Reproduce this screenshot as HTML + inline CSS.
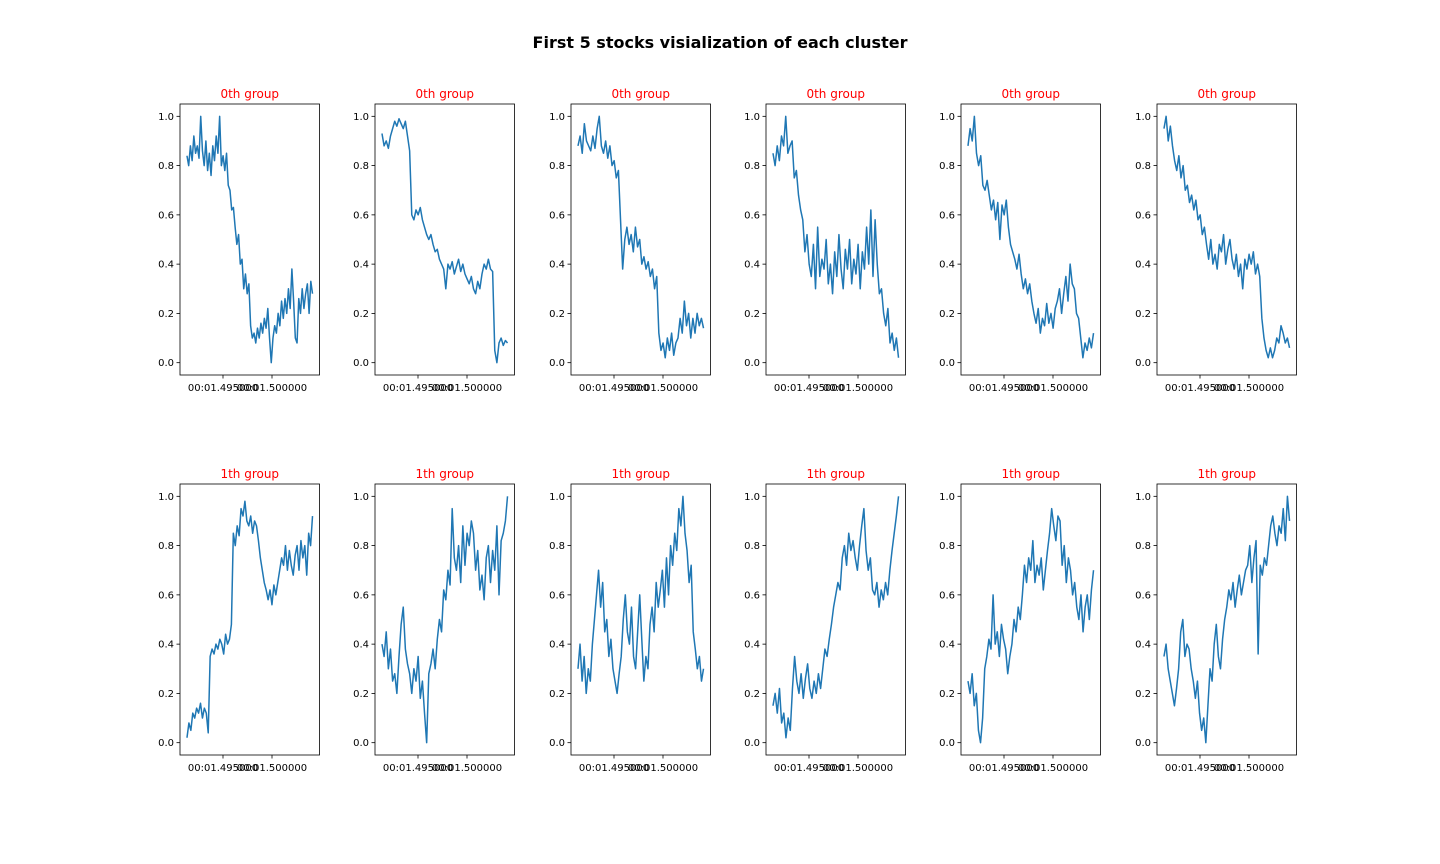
<!DOCTYPE html>
<html><head><meta charset="utf-8"><style>
html,body{margin:0;padding:0;background:#fff;}
svg{display:block;font-family:"DejaVu Sans","Liberation Sans",sans-serif;}
</style></head><body>
<svg id="fig" width="1440" height="864" viewBox="0 0 1440 864">
<text x="720" y="48" text-anchor="middle" font-size="16" font-weight="bold" fill="#000">First 5 stocks visialization of each cluster</text>
</svg>
<script>
const groupTitles = ["0th group","1th group"];
const yTicks = [0.0,0.2,0.4,0.6,0.8,1.0];
const xTickLabels = ["00:01.495000","00:01.500000"];
const r0s0=[0.84,0.80,0.88,0.82,0.92,0.85,0.88,0.83,1.00,0.86,0.80,0.90,0.78,0.85,0.76,0.88,0.82,0.92,0.85,1.00,0.80,0.84,0.78,0.85,0.72,0.70,0.62,0.63,0.55,0.48,0.52,0.40,0.42,0.30,0.36,0.28,0.32,0.15,0.10,0.12,0.08,0.14,0.10,0.16,0.12,0.18,0.14,0.22,0.10,0.00,0.10,0.15,0.12,0.20,0.15,0.25,0.18,0.26,0.20,0.30,0.22,0.38,0.25,0.10,0.08,0.26,0.20,0.30,0.22,0.28,0.32,0.20,0.33,0.28];
const r0s1=[0.93,0.88,0.90,0.87,0.92,0.95,0.98,0.96,0.99,0.97,0.95,0.98,0.92,0.86,0.60,0.58,0.62,0.60,0.63,0.58,0.55,0.52,0.50,0.52,0.48,0.45,0.46,0.42,0.40,0.38,0.30,0.40,0.38,0.41,0.36,0.39,0.42,0.37,0.40,0.36,0.34,0.32,0.35,0.30,0.28,0.33,0.30,0.36,0.40,0.38,0.42,0.38,0.37,0.05,0.00,0.08,0.10,0.07,0.09,0.08];
const r0s2=[0.88,0.92,0.85,0.97,0.90,0.88,0.86,0.92,0.87,0.95,1.00,0.88,0.85,0.90,0.83,0.88,0.80,0.82,0.75,0.78,0.58,0.38,0.50,0.55,0.48,0.52,0.45,0.55,0.47,0.50,0.40,0.43,0.38,0.41,0.35,0.38,0.30,0.35,0.12,0.05,0.08,0.02,0.10,0.05,0.12,0.03,0.08,0.10,0.18,0.12,0.25,0.15,0.20,0.10,0.18,0.12,0.20,0.15,0.18,0.14];
const r0s3=[0.85,0.80,0.88,0.82,0.92,0.88,1.00,0.85,0.88,0.90,0.75,0.78,0.68,0.62,0.58,0.45,0.52,0.40,0.35,0.48,0.30,0.55,0.35,0.42,0.38,0.50,0.32,0.40,0.28,0.45,0.35,0.52,0.38,0.30,0.46,0.38,0.50,0.32,0.42,0.36,0.48,0.30,0.45,0.38,0.55,0.40,0.62,0.35,0.58,0.40,0.28,0.30,0.20,0.15,0.22,0.08,0.12,0.05,0.10,0.02];
const r0s4=[0.88,0.95,0.90,1.00,0.85,0.80,0.84,0.72,0.70,0.74,0.68,0.62,0.66,0.58,0.65,0.50,0.64,0.60,0.66,0.55,0.48,0.45,0.42,0.38,0.44,0.36,0.30,0.34,0.28,0.32,0.25,0.20,0.16,0.22,0.12,0.18,0.15,0.24,0.16,0.20,0.14,0.22,0.25,0.30,0.20,0.28,0.35,0.25,0.40,0.32,0.30,0.20,0.18,0.10,0.02,0.08,0.05,0.10,0.06,0.12];
const r0s5=[0.95,1.00,0.90,0.96,0.88,0.82,0.78,0.84,0.75,0.80,0.70,0.72,0.65,0.68,0.62,0.66,0.58,0.60,0.52,0.55,0.48,0.42,0.50,0.40,0.44,0.38,0.48,0.45,0.52,0.40,0.46,0.50,0.42,0.38,0.44,0.35,0.40,0.30,0.42,0.38,0.44,0.40,0.45,0.36,0.40,0.35,0.18,0.10,0.05,0.02,0.06,0.02,0.05,0.10,0.08,0.15,0.12,0.08,0.10,0.06];
const r1s0=[0.02,0.08,0.05,0.12,0.10,0.14,0.12,0.16,0.10,0.14,0.12,0.04,0.35,0.38,0.36,0.40,0.38,0.42,0.40,0.36,0.44,0.40,0.42,0.48,0.85,0.80,0.88,0.84,0.95,0.92,0.98,0.90,0.88,0.92,0.85,0.90,0.88,0.82,0.75,0.70,0.65,0.62,0.58,0.62,0.56,0.64,0.60,0.65,0.70,0.75,0.72,0.80,0.70,0.78,0.72,0.68,0.76,0.80,0.70,0.82,0.75,0.80,0.68,0.85,0.80,0.92];
const r1s1=[0.40,0.35,0.45,0.30,0.38,0.25,0.28,0.20,0.35,0.48,0.55,0.38,0.32,0.28,0.20,0.30,0.25,0.35,0.18,0.25,0.12,0.00,0.28,0.32,0.38,0.30,0.42,0.50,0.45,0.62,0.58,0.70,0.64,0.95,0.75,0.70,0.80,0.65,0.88,0.72,0.85,0.80,0.90,0.85,0.70,0.78,0.62,0.68,0.58,0.75,0.80,0.65,0.78,0.70,0.88,0.60,0.82,0.85,0.90,1.00];
const r1s2=[0.30,0.40,0.25,0.35,0.20,0.30,0.25,0.40,0.50,0.60,0.70,0.55,0.65,0.45,0.50,0.35,0.42,0.30,0.25,0.20,0.28,0.35,0.50,0.60,0.45,0.40,0.55,0.35,0.30,0.45,0.60,0.42,0.25,0.35,0.30,0.48,0.55,0.45,0.65,0.55,0.62,0.70,0.55,0.75,0.60,0.80,0.72,0.85,0.78,0.95,0.88,1.00,0.85,0.78,0.65,0.72,0.45,0.38,0.30,0.35,0.25,0.30];
const r1s3=[0.15,0.20,0.12,0.22,0.08,0.12,0.02,0.10,0.05,0.22,0.35,0.25,0.20,0.28,0.18,0.26,0.32,0.22,0.18,0.25,0.20,0.28,0.22,0.30,0.38,0.35,0.42,0.48,0.55,0.60,0.65,0.62,0.75,0.80,0.72,0.85,0.78,0.82,0.75,0.70,0.80,0.88,0.95,0.78,0.70,0.75,0.62,0.60,0.65,0.55,0.62,0.58,0.65,0.60,0.70,0.78,0.85,0.92,1.00];
const r1s4=[0.25,0.20,0.28,0.15,0.20,0.05,0.00,0.10,0.30,0.35,0.42,0.38,0.60,0.40,0.45,0.35,0.48,0.42,0.38,0.28,0.35,0.40,0.50,0.45,0.55,0.50,0.60,0.72,0.65,0.75,0.70,0.82,0.65,0.72,0.68,0.75,0.62,0.70,0.78,0.85,0.95,0.88,0.82,0.92,0.90,0.72,0.80,0.65,0.75,0.70,0.60,0.65,0.55,0.50,0.60,0.45,0.55,0.60,0.50,0.62,0.70];
const r1s5=[0.35,0.40,0.30,0.25,0.20,0.15,0.22,0.30,0.45,0.50,0.35,0.40,0.38,0.30,0.25,0.18,0.25,0.12,0.05,0.10,0.00,0.15,0.30,0.25,0.40,0.48,0.35,0.30,0.42,0.50,0.55,0.62,0.58,0.65,0.55,0.62,0.68,0.60,0.65,0.70,0.72,0.80,0.65,0.75,0.82,0.36,0.72,0.68,0.75,0.72,0.80,0.88,0.92,0.85,0.80,0.88,0.85,0.95,0.82,1.00,0.90];
const seriesRows=[[r0s0,r0s1,r0s2,r0s3,r0s4,r0s5],[r1s0,r1s1,r1s2,r1s3,r1s4,r1s5]];

const NS="http://www.w3.org/2000/svg";
const svg=document.getElementById('fig');
function mk(tag,attrs,parent){const e=document.createElementNS(NS,tag);for(const k in attrs)e.setAttribute(k,attrs[k]);(parent||svg).appendChild(e);return e;}
const lefts=[180,375,571,766,961,1157], tops=[104,484], W=139.5, H=271;
seriesRows.forEach((row,ri)=>{
  row.forEach((vals,ci)=>{
    const x0=lefts[ci], y0=tops[ri];
    const g=mk('g',{});
    
    
    const yS=v=>y0+H-(v+0.05)/1.1*H;
    const xS=t=>x0+W*(0.05+0.9*t);
    const n=vals.length;
    const d=vals.map((v,i)=>(i?'L':'M')+xS(i/(n-1)).toFixed(2)+','+yS(v).toFixed(2)).join(' ');
    const p=mk('path',{d:d,fill:'none',stroke:'#1f77b4','stroke-width':1.5,'stroke-linejoin':'round'},g);
    
    
    const r=mk('rect',{x:x0,y:y0,width:W,height:H,fill:'none',stroke:'#000','stroke-width':0.8},g);
    
    
    const t=mk('text',{x:x0+W/2,y:y0-6,'text-anchor':'middle','font-size':12,fill:'#ff0000'},g);
    t.textContent=groupTitles[ri];
    
    
    yTicks.forEach(v=>{
      const yy=yS(v);
      mk('line',{x1:x0-3.5,x2:x0,y1:yy,y2:yy,stroke:'#000','stroke-width':0.8},g);
      const lt=mk('text',{x:x0-6,y:yy+3.5,'text-anchor':'end','font-size':10,fill:'#000'},g);
      lt.textContent=v.toFixed(1);
      
      
    });
    xTickLabels.forEach((lab,k)=>{
      const xx=x0+43+49*k;
      mk('line',{x1:xx,x2:xx,y1:y0+H,y2:y0+H+3.5,stroke:'#000','stroke-width':0.8},g);
      const xt=mk('text',{x:xx,y:y0+H+16,'text-anchor':'middle','font-size':10,fill:'#000'},g);
      xt.textContent=lab;
      
      
    });
  });
});
</script>
</body></html>
